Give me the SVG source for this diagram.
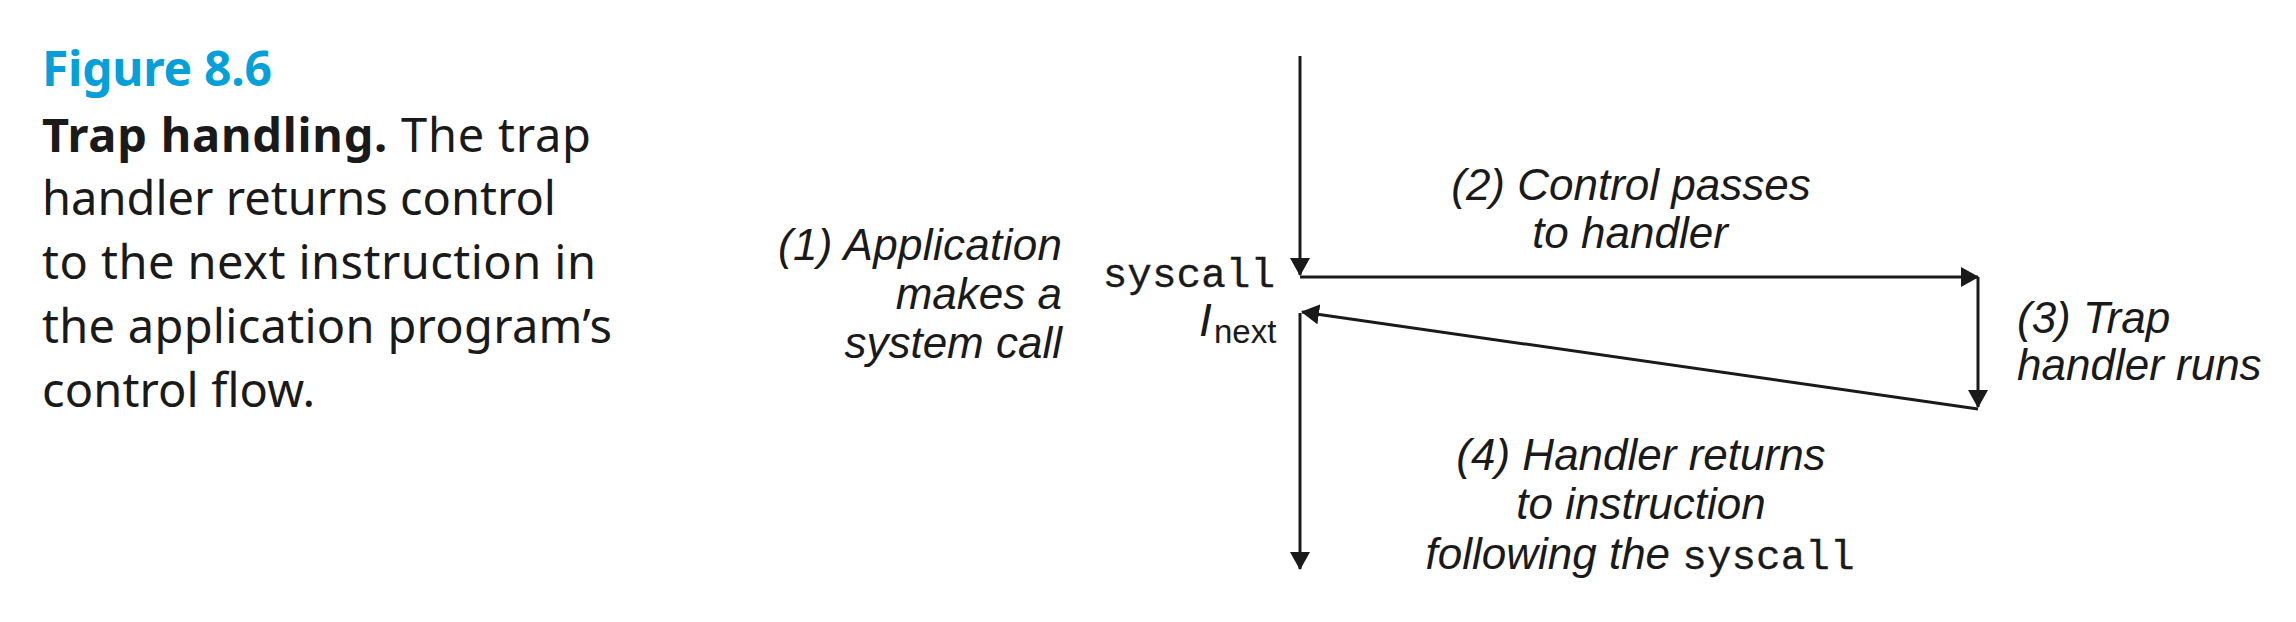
<svg xmlns="http://www.w3.org/2000/svg" width="2296" height="622" viewBox="0 0 2296 622">
<style>
.cap{font-family:"Noto Sans","Liberation Sans",sans-serif;font-size:47px;fill:#1a1a1a}
.fig{font-family:"Noto Sans","Liberation Sans",sans-serif;font-size:48px;font-weight:bold;fill:#05a0d9}
.lbl{font-family:"Liberation Sans",Arial,sans-serif;font-size:44px;font-style:italic;fill:#1a1a1a}
.mono{font-family:"Liberation Mono","Courier New",monospace;font-size:41px;font-style:normal;fill:#1a1a1a;stroke:#1a1a1a;stroke-width:0.3}
.sym{font-family:"Liberation Sans",Arial,sans-serif;fill:#1a1a1a}
.ln{stroke:#1a1a1a;stroke-width:3;fill:none;marker-end:url(#ah)}
</style>
<defs>
<marker id="ah" markerUnits="userSpaceOnUse" markerWidth="18" markerHeight="20" refX="17" refY="10" orient="auto" viewBox="0 0 18 20">
<path d="M0,0 L18,10 L0,20 z" fill="#1a1a1a"/>
</marker>
</defs>
<rect width="2296" height="622" fill="#ffffff"/>
<g id="caption">
<text class="fig" x="42" y="86" textLength="230">Figure 8.6</text>
<text class="cap" x="42" y="152" textLength="549"><tspan font-weight="bold">Trap handling.</tspan> The trap</text>
<text class="cap" x="42" y="215" textLength="514">handler returns control</text>
<text class="cap" x="42" y="279" textLength="554">to the next instruction in</text>
<text class="cap" x="42" y="343" textLength="570">the application program’s</text>
<text class="cap" x="42" y="407" textLength="273">control flow.</text>
</g>
<g id="connectors">
<line class="ln" x1="1300" y1="56" x2="1300" y2="275"/>
<line class="ln" x1="1300" y1="277" x2="1978" y2="277"/>
<line class="ln" x1="1978" y1="277" x2="1978" y2="407"/>
<line class="ln" x1="1978" y1="409" x2="1302" y2="312"/>
<line class="ln" x1="1300" y1="313" x2="1300" y2="569"/>
</g>
<g id="instructions">
<text class="mono" x="1275" y="287" text-anchor="end">syscall</text>
<text class="sym" x="1199" y="336" style="font-size:46px;font-style:italic">I</text>
<text class="sym" x="1214" y="343" style="font-size:33px;font-style:normal">next</text>
</g>
<g id="label1">
<text class="lbl" x="1062" y="260" text-anchor="end" textLength="284">(1) Application</text>
<text class="lbl" x="1062" y="309" text-anchor="end">makes a</text>
<text class="lbl" x="1062" y="358" text-anchor="end">system call</text>
</g>
<g id="label2">
<text class="lbl" x="1631" y="200" text-anchor="middle">(2) Control passes</text>
<text class="lbl" x="1630" y="248" text-anchor="middle">to handler</text>
</g>
<g id="label3">
<text class="lbl" x="2017" y="333">(3) Trap</text>
<text class="lbl" x="2017" y="380">handler runs</text>
</g>
<g id="label4">
<text class="lbl" x="1641" y="470" text-anchor="middle">(4) Handler returns</text>
<text class="lbl" x="1641" y="519" text-anchor="middle">to instruction</text>
<text class="lbl" x="1640" y="569" text-anchor="middle">following the <tspan class="mono">syscall</tspan></text>
</g>
</svg>
